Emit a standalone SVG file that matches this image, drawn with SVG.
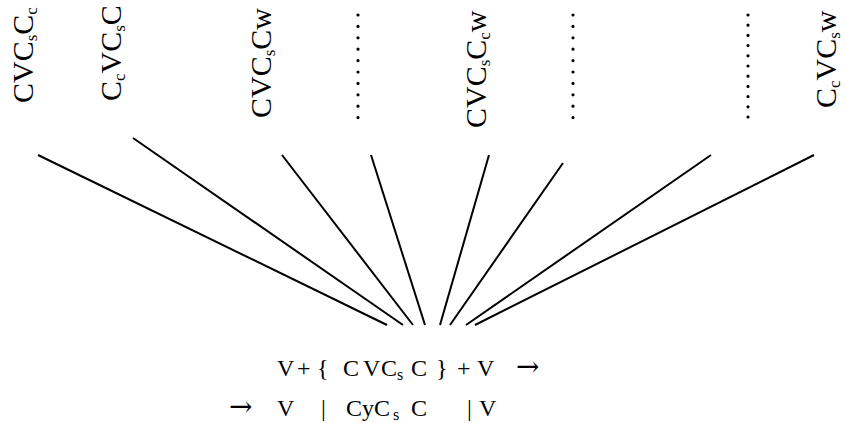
<svg xmlns="http://www.w3.org/2000/svg" width="846" height="423" viewBox="0 0 846 423">
  <style>
    .lbl { font-family: "Liberation Serif", "Times New Roman", serif; font-size: 30px; fill: #000; }
    .sub { font-size: 17px; }
    .eq { font-family: "Liberation Serif", "Times New Roman", serif; font-size: 24px; fill: #000; }
    .eqsub { font-size: 16px; }
    .arr { font-family: "DejaVu Serif", serif; font-size: 28px; }
    .edge { stroke: #000; stroke-width: 2; fill: none; }
    .dots { stroke: #000; stroke-width: 3.2; stroke-linecap: round; stroke-dasharray: 0 11.4; fill: none; }
  </style>

  <rect width="846" height="423" fill="#fff"/>

  <!-- syllable patterns, written vertically -->
  <g id="n1"><text class="lbl" transform="translate(33,103) rotate(-90)">CVC<tspan class="sub" dy="4">s</tspan><tspan dy="-4">C</tspan><tspan class="sub" dy="4">c</tspan></text></g>
  <g id="n2"><text class="lbl" transform="translate(121,101) rotate(-90)">C<tspan class="sub" dy="4">c</tspan><tspan dy="-4">VC</tspan><tspan class="sub" dy="4">s</tspan><tspan dy="-4">C</tspan></text></g>
  <g id="n3"><text class="lbl" transform="translate(271,118) rotate(-90)">CVC<tspan class="sub" dy="4">s</tspan><tspan dy="-4">Cw</tspan></text></g>
  <g id="n4"><path class="dots" d="M358,15 V119"/></g>
  <g id="n5"><text class="lbl" transform="translate(486,128) rotate(-90)">CVC<tspan class="sub" dy="4">s</tspan><tspan dy="-4">C</tspan><tspan class="sub" dy="4">c</tspan><tspan dy="-4">w</tspan></text></g>
  <g id="n6"><path class="dots" d="M573,15 V119"/></g>
  <g id="n7"><path class="dots" d="M748,15 V127" style="stroke-dasharray:0 10.2"/></g>
  <g id="n8"><text class="lbl" transform="translate(836,108) rotate(-90)">C<tspan class="sub" dy="4">c</tspan><tspan dy="-4">VC</tspan><tspan class="sub" dy="4">s</tspan><tspan dy="-4">w</tspan></text></g>

  <!-- fan of connectors converging on the formula -->
  <g id="edges">
    <line class="edge" x1="38" y1="155" x2="387" y2="325"/>
    <line class="edge" x1="133" y1="138" x2="403" y2="325"/>
    <line class="edge" x1="282" y1="155" x2="413" y2="325"/>
    <line class="edge" x1="371" y1="155" x2="425" y2="325"/>
    <line class="edge" x1="489" y1="155" x2="440" y2="325"/>
    <line class="edge" x1="563" y1="163" x2="450" y2="325"/>
    <line class="edge" x1="711" y1="155" x2="466" y2="325"/>
    <line class="edge" x1="814" y1="155" x2="475" y2="325"/>
  </g>

  <!-- formula -->
  <g id="formula">
    <text class="eq" y="376">
      <tspan x="277">V</tspan><tspan x="297">+</tspan><tspan x="317">{</tspan><tspan x="343">C</tspan><tspan x="363">V</tspan><tspan x="381">C</tspan><tspan class="eqsub" x="397" dy="4">s</tspan><tspan x="411" dy="-4">C</tspan><tspan x="436">}</tspan><tspan x="457">+</tspan><tspan x="477">V</tspan><tspan class="arr" x="516">→</tspan>
    </text>
    <text class="eq" y="416">
      <tspan class="arr" x="229">→</tspan><tspan x="277">V</tspan><tspan x="321">|</tspan><tspan x="346">C</tspan><tspan x="362">y</tspan><tspan x="374">C</tspan><tspan class="eqsub" x="393" dy="4">s</tspan><tspan x="411" dy="-4">C</tspan><tspan x="467">|</tspan><tspan x="479">V</tspan>
    </text>
  </g>
</svg>
